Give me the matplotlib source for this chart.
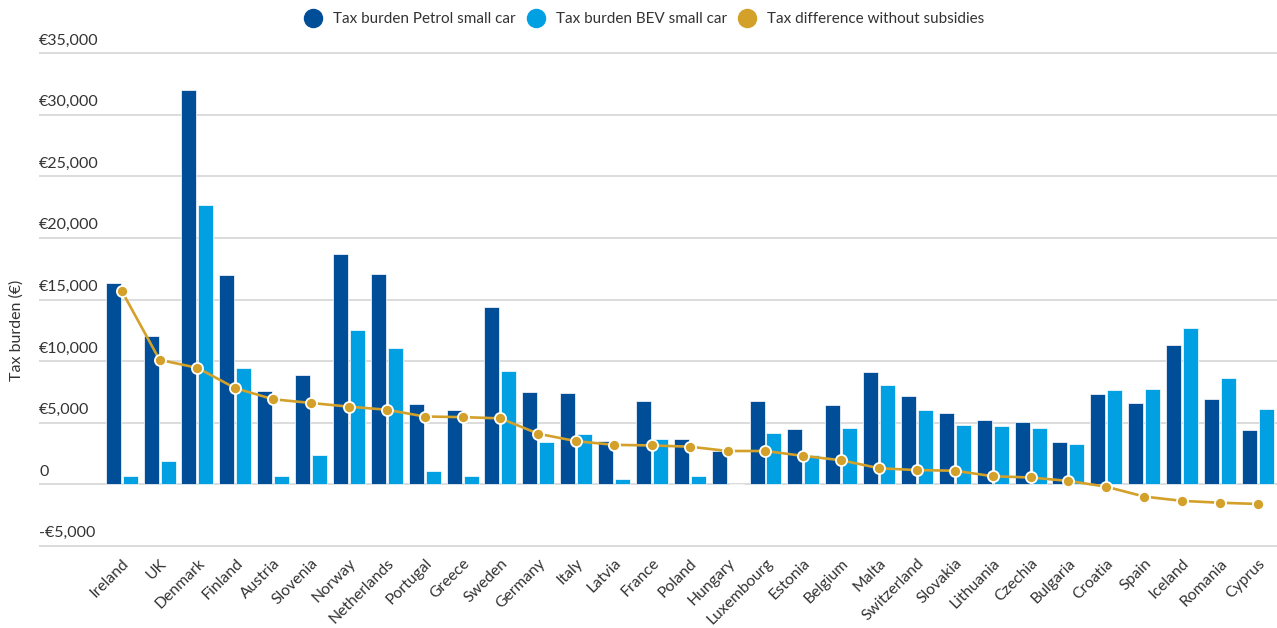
import matplotlib
matplotlib.use("Agg")
import matplotlib.pyplot as plt
from matplotlib.lines import Line2D
import matplotlib.transforms as mtransforms
import numpy as np

countries = ["Ireland", "UK", "Denmark", "Finland", "Austria", "Slovenia", "Norway",
             "Netherlands", "Portugal", "Greece", "Sweden", "Germany", "Italy", "Latvia",
             "France", "Poland", "Hungary", "Luxembourg", "Estonia", "Belgium", "Malta",
             "Switzerland", "Slovakia", "Lithuania", "Czechia", "Bulgaria", "Croatia",
             "Spain", "Iceland", "Romania", "Cyprus"]
petrol = [16300, 12000, 32000, 17000, 7550, 8900, 18700, 17100, 6550, 6050, 14400,
          7500, 7400, 3500, 6750, 3650, 2700, 6750, 4500, 6450, 9150, 7200, 5800,
          5200, 5050, 3400, 7300, 6600, 11300, 6900, 4400]
bev = [700, 1900, 22700, 9400, 700, 2400, 12550, 11100, 1100, 700, 9200,
       3450, 4100, 450, 3650, 700, 0, 4200, 2350, 4550, 8050, 6050, 4850,
       4750, 4550, 3250, 7650, 7750, 12700, 8600, 6100]
difference = [15700, 10100, 9450, 7800, 6900, 6600, 6300, 6050, 5500, 5450, 5350,
              4100, 3500, 3200, 3150, 3050, 2700, 2700, 2300, 1950, 1300, 1150, 1100,
              650, 550, 270, -200, -1000, -1350, -1500, -1600]
ytick_vals = [-5000, 0, 5000, 10000, 15000, 20000, 25000, 30000, 35000]
ytick_labels = ["-€5,000", "0", "€5,000", "€10,000", "€15,000", "€20,000",
                "€25,000", "€30,000", "€35,000"]

C_PETROL = "#004E98"
C_BEV = "#00A0E2"
C_DIFF = "#D3A02A"
TXT = "#333333"
FONT = ["Lato", "DejaVu Sans"]
plt.rcParams["font.family"] = FONT

W, H = 1277, 628
fig = plt.figure(figsize=(W / 100, H / 100), dpi=100)
ax = fig.add_axes([39 / W, 1 - 552 / H, (W - 39) / W, (552 - 47) / H])
ax.set_ylim(-5500, 35500)

x = np.arange(len(countries))
bw = 0.396
off = 0.224
ax.bar(x - off, petrol, width=bw, color=C_PETROL, edgecolor="white", linewidth=0.5, zorder=2)
ax.bar(x + off, bev, width=bw, color=C_BEV, edgecolor="white", linewidth=0.5, zorder=2)
ax.plot(x, difference, color=C_DIFF, lw=1.9, marker="o", markersize=8,
        markeredgecolor="white", markeredgewidth=1.3, zorder=3)

sp = 37.87
ax.set_xlim(-(121.7 - 39) / sp, 30 + (W - 1257.8) / sp)

for s in ax.spines.values():
    s.set_visible(False)
ax.set_yticks(ytick_vals)
ax.set_yticklabels([])
ax.tick_params(axis="y", length=0)
ax.grid(axis="y", color="#d6d6d6", lw=1.2, zorder=0)
ax.set_axisbelow(True)

trans = mtransforms.blended_transform_factory(ax.transAxes, ax.transData)
for v, lab in zip(ytick_vals, ytick_labels):
    ax.text(0, v + 450, lab, transform=trans, ha="left", va="bottom",
            fontsize=11.5, color=TXT)

ax.set_xticks(x)
ax.set_xticklabels(countries, rotation=45, ha="right", rotation_mode="anchor",
                   fontsize=11.3, color=TXT)
ax.tick_params(axis="x", length=0, pad=3)

fig.text(17 / W, 1 - 330 / H, "Tax burden (€)", rotation=90, ha="center", va="center",
         fontsize=11.5, color=TXT)

handles = [Line2D([], [], marker="o", ls="none", color=C_PETROL, markersize=13),
           Line2D([], [], marker="o", ls="none", color=C_BEV, markersize=13),
           Line2D([], [], marker="o", ls="none", color=C_DIFF, markersize=13)]
fig.legend(handles, ["Tax burden Petrol small car", "Tax burden BEV small car",
                     "Tax difference without subsidies"],
           loc="center", bbox_to_anchor=(641 / W, 1 - 19 / H), ncol=3, frameon=False,
           fontsize=11, handletextpad=0.3, columnspacing=0.3, labelcolor=TXT)

fig.savefig("out.png", dpi=100)
